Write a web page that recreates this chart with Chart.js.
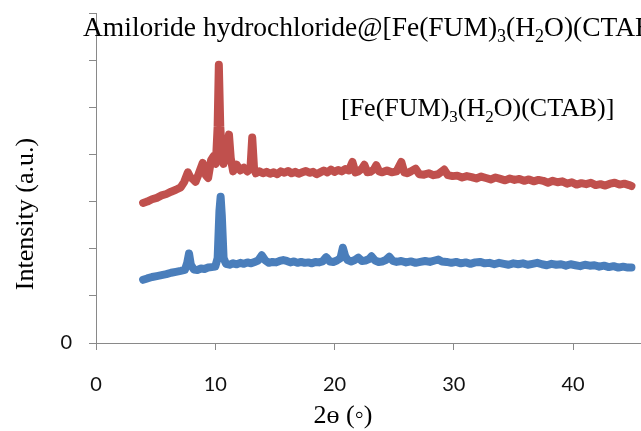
<!DOCTYPE html>
<html>
<head>
<meta charset="utf-8">
<script src="https://cdn.jsdelivr.net/npm/chart.js@4"></script>
<style>
  html, body { margin: 0; padding: 0; background: #fff; }
  #wrap { width: 641px; height: 431px; }
</style>
</head>
<body>
<div id="wrap"><canvas id="xrd" width="641" height="431"></canvas></div>
<script>
// 2-theta positions and intensities
const redTheta = [3.95, 4.3, 4.7, 5.1, 5.5, 5.9, 6.3, 6.7, 7.1, 7.4, 7.7, 7.9, 8.1, 8.35, 8.6, 8.95, 9.2, 9.4, 9.65, 9.85,
  10.05, 10.2, 10.3, 10.42, 10.55, 10.7, 10.9, 11.15, 11.3, 11.5, 11.8, 12.1, 12.4, 12.7, 12.95, 13.1, 13.25, 13.4, 13.7, 14.0,
  14.3, 14.6, 14.9, 15.2, 15.5, 15.8, 16.1, 16.4, 16.7, 17.0, 17.3, 17.6, 17.9, 18.2, 18.5, 18.8, 19.1, 19.4, 19.7, 20.0,
  20.3, 20.6, 20.9, 21.2, 21.5, 21.75, 22.0, 22.3, 22.5, 22.75, 23.0, 23.3, 23.5, 23.75, 24.0, 24.4, 24.8, 25.2, 25.6, 25.85,
  26.1, 26.4, 26.8, 27.1, 27.5, 27.9, 28.3, 28.7, 29.2, 29.5, 29.9, 30.3, 30.7, 31.1, 31.5, 31.9, 32.3, 32.7, 33.1, 33.5,
  33.9, 34.3, 34.7, 35.1, 35.5, 35.9, 36.3, 36.7, 37.1, 37.5, 37.9, 38.3, 38.7, 39.1, 39.5, 39.9, 40.3, 40.7, 41.1, 41.5,
  41.9, 42.3, 42.7, 43.1, 43.5, 43.9, 44.3, 44.7, 44.9];
const redIntensity = [2.97, 3.00, 3.05, 3.08, 3.13, 3.16, 3.21, 3.25, 3.30, 3.42, 3.62, 3.52, 3.48, 3.42, 3.58, 3.82, 3.56, 3.50, 3.88, 3.96,
  3.80, 4.60, 5.90, 4.60, 4.02, 3.80, 4.10, 4.42, 3.92, 3.64, 3.78, 3.66, 3.72, 3.64, 3.70, 4.36, 3.72, 3.60, 3.64, 3.60,
  3.63, 3.59, 3.62, 3.58, 3.64, 3.61, 3.65, 3.60, 3.63, 3.59, 3.62, 3.65, 3.61, 3.63, 3.58, 3.62, 3.66, 3.62, 3.68, 3.63,
  3.67, 3.64, 3.69, 3.66, 3.84, 3.62, 3.64, 3.70, 3.78, 3.62, 3.63, 3.68, 3.77, 3.64, 3.62, 3.66, 3.62, 3.64, 3.84, 3.62,
  3.60, 3.64, 3.70, 3.58, 3.57, 3.60, 3.56, 3.58, 3.68, 3.56, 3.54, 3.55, 3.51, 3.54, 3.52, 3.49, 3.53, 3.50, 3.47, 3.51,
  3.48, 3.45, 3.49, 3.46, 3.48, 3.44, 3.47, 3.43, 3.46, 3.44, 3.40, 3.44, 3.41, 3.43, 3.38, 3.41, 3.36, 3.39, 3.37, 3.40,
  3.35, 3.37, 3.34, 3.38, 3.40, 3.36, 3.38, 3.35, 3.33];

const blueTheta = [3.95, 4.3, 4.7, 5.1, 5.5, 5.9, 6.3, 6.7, 7.1, 7.45, 7.65, 7.8, 7.95, 8.2, 8.5, 8.8, 9.1, 9.4, 9.7, 10.0,
  10.2, 10.35, 10.45, 10.55, 10.7, 10.9, 11.2, 11.5, 11.8, 12.1, 12.4, 12.7, 13.0, 13.3, 13.6, 13.9, 14.2, 14.5, 14.8, 15.1,
  15.4, 15.7, 16.0, 16.3, 16.6, 16.9, 17.2, 17.5, 17.8, 18.1, 18.4, 18.7, 19.0, 19.3, 19.6, 19.9, 20.2, 20.5, 20.7, 20.9,
  21.1, 21.4, 21.7, 22.0, 22.3, 22.6, 22.9, 23.1, 23.4, 23.7, 24.0, 24.3, 24.6, 24.9, 25.2, 25.6, 26.0, 26.4, 26.8, 27.2,
  27.6, 28.0, 28.4, 28.7, 29.0, 29.4, 29.8, 30.2, 30.6, 31.0, 31.4, 31.8, 32.2, 32.6, 33.0, 33.4, 33.8, 34.2, 34.6, 35.0,
  35.4, 35.8, 36.2, 36.6, 37.0, 37.4, 37.8, 38.2, 38.6, 39.0, 39.4, 39.8, 40.2, 40.6, 41.0, 41.4, 41.8, 42.2, 42.6, 43.0,
  43.4, 43.8, 44.2, 44.6, 44.9];
const blueIntensity = [1.34, 1.37, 1.40, 1.42, 1.44, 1.46, 1.49, 1.51, 1.53, 1.55, 1.70, 1.90, 1.66, 1.56, 1.55, 1.58, 1.57, 1.60, 1.61, 1.62,
  1.80, 2.80, 3.10, 2.70, 1.80, 1.68, 1.66, 1.69, 1.67, 1.70, 1.68, 1.71, 1.69, 1.72, 1.75, 1.86, 1.75, 1.70, 1.72, 1.71,
  1.74, 1.76, 1.74, 1.71, 1.73, 1.70, 1.72, 1.70, 1.71, 1.69, 1.72, 1.71, 1.73, 1.82, 1.73, 1.72, 1.75, 1.80, 2.02, 1.84,
  1.76, 1.73, 1.76, 1.81, 1.74, 1.75, 1.78, 1.84, 1.75, 1.72, 1.73, 1.76, 1.83, 1.74, 1.72, 1.74, 1.71, 1.73, 1.70, 1.72,
  1.74, 1.72, 1.75, 1.77, 1.73, 1.72, 1.70, 1.72, 1.69, 1.71, 1.68, 1.71, 1.72, 1.69, 1.70, 1.67, 1.70, 1.68, 1.66, 1.69,
  1.67, 1.69, 1.66, 1.68, 1.70, 1.67, 1.65, 1.68, 1.66, 1.67, 1.64, 1.67, 1.65, 1.63, 1.66, 1.64, 1.65, 1.62, 1.64, 1.61,
  1.63, 1.60, 1.62, 1.60, 1.60];

const xTicks = [0, 10, 20, 30, 40];
const yTicks = [0, 1, 2, 3, 4, 5, 6, 7];

const toPoints = (xs, ys) => xs.map((x, i) => ({ x: x, y: ys[i] }));

const axisGray = '#898989';
const serif = '"Liberation Serif", "Times New Roman", serif';

// draws text with subscript pieces, parts = [[text, isSub], ...]
function drawRich(ctx, parts, x, y, size) {
    let cx = x;
    parts.forEach(([text, sub]) => {
        const fs = sub ? Math.round(size * 0.65) : size;
        ctx.font = fs + 'px ' + serif;
        ctx.fillText(text, cx, sub ? y + size * 0.22 : y);
        cx += ctx.measureText(text).width;
    });
}

const labelsPlugin = {
    id: 'labels',
    afterDraw(chart) {
        const ctx = chart.ctx;
        ctx.save();
        ctx.fillStyle = '#000';
        ctx.textAlign = 'left';
        ctx.textBaseline = 'alphabetic';
        drawRich(ctx, [['Amiloride hydrochloride@[Fe(FUM)', 0], ['3', 1], ['(H', 0], ['2', 1], ['O)(CTAB)]', 0]], 83, 36, 27.5);
        drawRich(ctx, [['[Fe(FUM)', 0], ['3', 1], ['(H', 0], ['2', 1], ['O)(CTAB)]', 0]], 341, 116, 26);

        // axis titles
        ctx.font = '26px ' + serif;
        ctx.textAlign = 'center';
        ctx.fillText('2\u0275 (\u25E6)', 343, 423);
        ctx.translate(33, 214);
        ctx.rotate(-Math.PI / 2);
        ctx.fillText('Intensity (a.u.)', 0, 0);
        ctx.restore();
    }
};

const ctx = document.getElementById('xrd').getContext('2d');
new Chart(ctx, {
    type: 'line',
    data: {
        datasets: [
            {
                label: 'Amiloride hydrochloride@[Fe(FUM)3(H2O)(CTAB)]',
                data: toPoints(redTheta, redIntensity),
                borderColor: '#C0504D',
                borderWidth: 8,
                borderCapStyle: 'round',
                borderJoinStyle: 'round',
                pointRadius: 0,
                tension: 0
            },
            {
                label: '[Fe(FUM)3(H2O)(CTAB)]',
                data: toPoints(blueTheta, blueIntensity),
                borderColor: '#4A7EBB',
                borderWidth: 8,
                borderCapStyle: 'round',
                borderJoinStyle: 'round',
                pointRadius: 0,
                tension: 0
            }
        ]
    },
    options: {
        responsive: false,
        devicePixelRatio: 1,
        animation: false,
        layout: { autoPadding: false, padding: { top: 13, right: 0, left: 0, bottom: 0 } },
        plugins: {
            legend: { display: false },
            tooltip: { enabled: false }
        },
        scales: {
            x: {
                type: 'linear',
                min: 0,
                max: 45.7,
                afterBuildTicks: (scale) => { scale.ticks = xTicks.map(v => ({ value: v })); },
                afterFit: (scale) => { scale.height = 88; scale.paddingRight = 0; scale.paddingLeft = 0; },
                grid: { drawOnChartArea: false, color: axisGray, tickLength: 7, lineWidth: 1 },
                border: { color: axisGray, width: 1 },
                ticks: {
                    padding: 23,
                    color: '#111',
                    font: { family: 'Lato, "Open Sans", sans-serif', size: 20 },
                    maxRotation: 0
                }
            },
            y: {
                type: 'linear',
                min: 0,
                max: 7,
                afterBuildTicks: (scale) => { scale.ticks = yTicks.map(v => ({ value: v })); },
                afterFit: (scale) => { scale.width = 96; scale.paddingTop = 0; scale.paddingBottom = 0; },
                grid: { drawOnChartArea: false, color: axisGray, tickLength: 7, lineWidth: 1 },
                border: { color: axisGray, width: 1 },
                ticks: {
                    padding: 17,
                    color: '#111',
                    font: { family: 'Lato, "Open Sans", sans-serif', size: 20 },
                    callback: (v) => (v === 0 ? '0' : '')
                }
            }
        }
    },
    plugins: [labelsPlugin]
});
</script>
</body>
</html>
